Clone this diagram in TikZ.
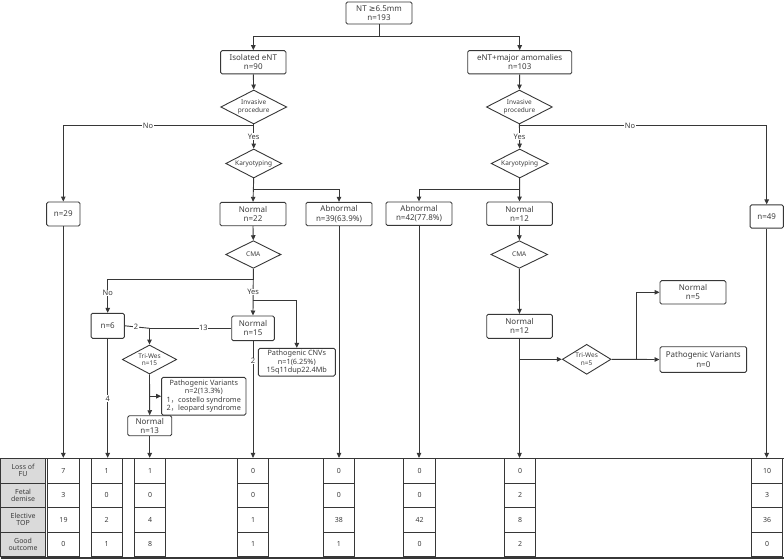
\documentclass[tikz,border=0pt]{standalone}
\usepackage{fontspec}
\setmainfont{Noto Sans}
\newfontfamily\symf{DejaVu Sans}
\newfontfamily\cjk{Noto Sans CJK SC}
\usetikzlibrary{shapes.geometric,arrows.meta,calc}
\definecolor{lc}{RGB}{55,55,55}
\definecolor{tc}{RGB}{60,60,60}
\definecolor{gf}{RGB}{218,218,218}
\begin{document}
\begin{tikzpicture}[x=1pt,y=-1pt,
 every node/.style={text=tc},
 box/.style={draw=lc, line width=0.9pt, rounded corners=1.5pt, inner sep=0pt, align=center, font=\fontsize{8}{9.3}\selectfont},
 sbox/.style={box, font=\fontsize{7.3}{8.3}\selectfont},
 dia/.style={draw=lc, line width=0.9pt, diamond, inner sep=0pt},
 dtx/.style={font=\fontsize{6.5}{7.5}\selectfont, align=center, text=tc},
 conn/.style={draw=lc, line width=0.9pt},
 arr/.style={conn, -{Triangle[length=5pt,width=4.5pt]}},
 lab/.style={fill=white, inner sep=0.6pt, font=\fontsize{7.5}{8}\selectfont},
 cell/.style={draw=lc, line width=0.8pt, minimum width=31.3pt, minimum height=24.6pt, inner sep=0pt, font=\fontsize{7}{8}\selectfont},
 hcell/.style={cell, fill=gf, minimum width=45.2pt, align=center}
]
\useasboundingbox (0,0) rectangle (784,559);

% ---------- boxes ----------
\node[box, minimum width=66pt, minimum height=22pt] (top) at (379,13) {NT {\symf ≥}6.5mm\\n=193};
\node[box, minimum width=65.3pt, minimum height=23.3pt] (iso) at (253.3,62.3) {Isolated eNT\\n=90};
\node[box, minimum width=104pt, minimum height=23.3pt] (maj) at (519.7,62.3) {eNT+major amomalies\\n=103};

\node[dia, minimum width=66pt, minimum height=34pt, label={[dtx]center:{Invasive\\procedure}}] (inv1) at (253.7,107) {};
\node[dia, minimum width=66pt, minimum height=34pt, label={[dtx]center:{Invasive\\procedure}}] (inv2) at (519.4,107) {};
\node[dia, minimum width=56pt, minimum height=29pt, label={[dtx]center:{Karyotyping}}] (kar1) at (253.7,163.5) {};
\node[dia, minimum width=57pt, minimum height=29pt, label={[dtx]center:{Karyotyping}}] (kar2) at (519.7,163.5) {};

\node[box, minimum width=33.3pt, minimum height=24pt] (n29) at (63.3,214) {n=29};
\node[box, minimum width=33.3pt, minimum height=23.3pt] (n49) at (766.7,216.5) {n=49};
\node[box, minimum width=66pt, minimum height=23.4pt] (n22) at (253,214) {Normal\\n=22};
\node[box, minimum width=66pt, minimum height=23.4pt] (ab39) at (339,214) {Abnormal\\n=39(63.9\%)};
\node[box, minimum width=66pt, minimum height=23.4pt] (ab42) at (419,213.7) {Abnormal\\n=42(77.8\%)};
\node[box, minimum width=65.6pt, minimum height=23.4pt] (n12a) at (519.5,213.7) {Normal\\n=12};

\node[dia, minimum width=55.3pt, minimum height=27.6pt, label={[dtx]center:{CMA}}] (cma1) at (253.3,254.5) {};
\node[dia, minimum width=56.7pt, minimum height=27.6pt, label={[dtx]center:{CMA}}] (cma2) at (519.3,254.5) {};

\node[box, minimum width=33.3pt, minimum height=25pt] (n6) at (107.7,325.8) {n=6};
\node[box, minimum width=42.6pt, minimum height=24.7pt] (n15) at (253,328.3) {Normal\\n=15};
\node[sbox, minimum width=77pt, minimum height=27.7pt] (cnv) at (296.8,362.2) {Pathogenic CNVs\\n=1(6.25\%)\\15q11dup22.4Mb};
\node[dia, minimum width=54.3pt, minimum height=29pt, label={[dtx]center:{Tri-Wes\\n=15}}] (tw1) at (149.5,359.5) {};
\node[sbox, minimum width=84.3pt, minimum height=37.7pt] (pv1) at (203.8,396.2) {Pathogenic Variants\\n=2(13.3\%)\\1{\cjk ，}costello syndrome\\2{\cjk ，}leopard syndrome};
\node[box, minimum width=44pt, minimum height=20pt] (n13) at (149.7,425.7) {Normal\\n=13};

\node[box, minimum width=65.6pt, minimum height=24pt] (n12b) at (519.5,326.3) {Normal\\n=12};
\node[dia, minimum width=48.7pt, minimum height=30pt, label={[dtx]center:{Tri-Wes\\n=5}}] (tw2) at (586.7,359.3) {};
\node[box, minimum width=66pt, minimum height=23.3pt] (n5) at (693,292.3) {Normal\\n=5};
\node[box, minimum width=86.7pt, minimum height=25.6pt] (pv2) at (703.3,359.5) {Pathogenic Variants\\n=0};

% ---------- table ----------
\node[draw=lc, line width=1pt, minimum width=783pt, minimum height=98.4pt, inner sep=0pt, anchor=north west] (frame) at (0.5,458.3) {};
\draw[draw=lc, line width=1.6pt] (frame.south west) -- (frame.south east);
\node[hcell] (h1) at (23.1,470.6) {Loss of\\[-1pt]FU};
\node[hcell] (h2) at (23.1,495.2) {Fetal\\[-1pt]demise};
\node[hcell] (h3) at (23.1,519.8) {Elective\\[-1pt]TOP};
\node[hcell] (h4) at (23.1,544.4) {Good\\[-1pt]outcome};
\foreach \i/\cx/\va/\vb/\vc/\vd in {1/63.5/7/3/19/0, 2/106.7/1/0/2/1, 3/150/1/0/4/8, 4/253.2/0/0/1/1, 5/338.8/0/0/38/1, 6/419.5/0/0/42/0, 7/520/0/2/8/2, 8/767.2/10/3/36/0}{
  \node[cell] (c\i-1) at (\cx,470.6) {\va};
  \node[cell] (c\i-2) at (\cx,495.2) {\vb};
  \node[cell] (c\i-3) at (\cx,519.8) {\vc};
  \node[cell] (c\i-4) at (\cx,544.4) {\vd};
}

% ---------- connectors ----------
\draw[arr] (top.south) -- ++(0,12) -| (iso.north);
\draw[arr] (top.south) -- ++(0,12) -| (maj.north);
\draw[arr] (iso.south) -- (inv1.north);
\draw[arr] (maj.south) -- (inv2.north);

\draw[arr] (inv1.south) -- ++(0,1.5) -| (n29.north);
\node[lab] (no1) at (148,125.5) {No};
\draw[arr] (inv1.south) -- node[lab] (yes1) {Yes} (kar1.north);
\draw[arr] (inv2.south) -- ++(0,1.5) -| (n49.north);
\node[lab] (no2) at (630,125.5) {No};
\draw[arr] (inv2.south) -- node[lab] (yes2) {Yes} (kar2.north);

\draw[arr] (kar1.south) -- (n22.north);
\draw[arr] (kar1.south) -- ++(0,11) -| (ab39.north);
\draw[arr] (kar2.south) -- (n12a.north);
\draw[arr] (kar2.south) -- ++(0,11) -| (ab42.north);

\draw[arr] (n22.south) -- (cma1.north);
\draw[arr] (n12a.south) -- (cma2.north);

\draw[arr] (cma1.south) -- ++(0,11) -| (n6.north);
\node[lab] (no3) at (107.7,293) {No};
\draw[arr] (cma1.south) -- node[lab] (yes3) {Yes} (n15.north);
\coordinate (cb) at (253,300.7);
\draw[arr] (cb) -| (cnv.north);

\draw[arr] (n15.west) -| node[lab, pos=0.17] (l13) {13} (tw1.north);
\draw[conn] (n6.east) -- node[lab, pos=0.45] (l2a) {2} (tw1.north |- n15.west);
\draw[arr] (tw1.south) -- (n13.north);
\draw[arr] (tw1.south |- pv1.west) -- (pv1.west);

\draw[arr] (cma2.south) -- (n12b.north);
\draw[arr] (n12b.south |- tw2.west) -- (tw2.west);
\draw[arr] (tw2.east) -- (pv2.west);
\draw[arr] (tw2.east) -- ++(25,0) |- (n5.west);

% down to table
\draw[arr] (n29.south) -- (n29.south |- c1-1.north);
\draw[arr] (n6.south) -- node[lab, pos=0.5] (l4) {4} (n6.south |- c2-1.north);
\draw[arr] (n13.south) -- (n13.south |- c3-1.north);
\draw[arr] (n15.south) -- node[lab, pos=0.17] (l2b) {2} (n15.south |- c4-1.north);
\draw[arr] (ab39.south) -- (ab39.south |- c5-1.north);
\draw[arr] (ab42.south) -- (ab42.south |- c6-1.north);
\draw[arr] (n12b.south) -- (n12b.south |- c7-1.north);
\draw[arr] (n49.south) -- (n49.south |- c8-1.north);
\end{tikzpicture}
\end{document}
